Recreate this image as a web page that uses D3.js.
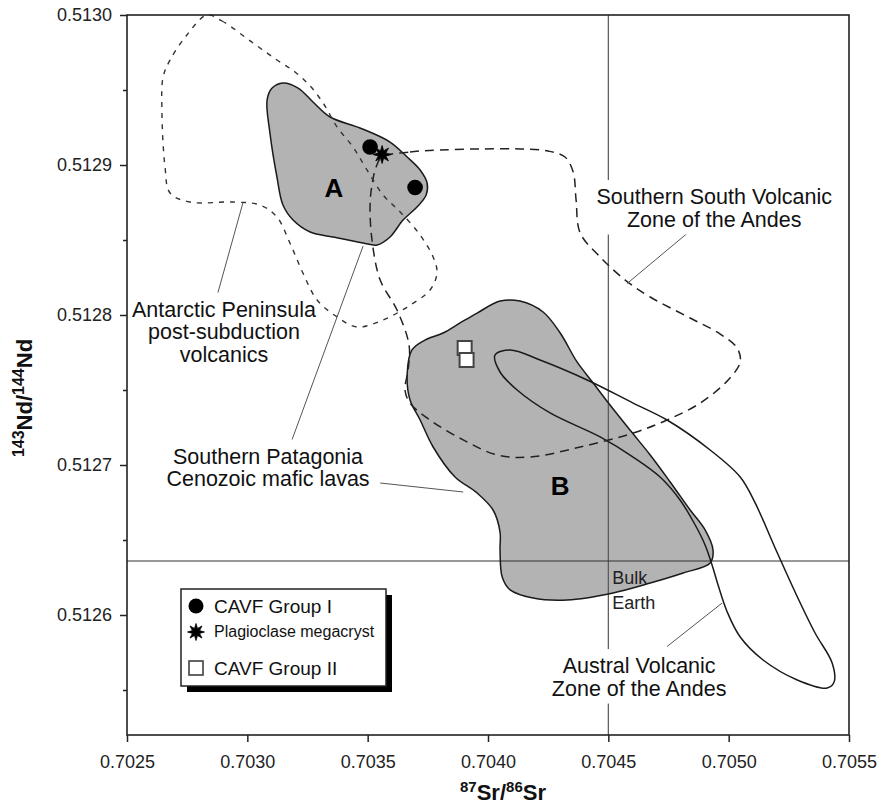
<!DOCTYPE html>
<meta charset="utf-8" />
<style>
  body {
    margin: 0;
    background: #fff;
  }
  svg {
    font-family: "Liberation Sans", Arial, Helvetica, sans-serif;
  }
</style>

<body>
  <div id="chart"></div>
  <script src="https://cdn.jsdelivr.net/npm/d3@7"></script>
  <script>
    // ---- data (Sr87/Sr86, Nd143/Nd144) ----
    const xTicks = [0.7025, 0.703, 0.7035, 0.704, 0.7045, 0.705, 0.7055];
    const yTicks = [0.5126, 0.5127, 0.5128, 0.5129, 0.513];
    const yMinorTicks = [0.51255, 0.51265, 0.51275, 0.51285, 0.51295];
    const bulkEarthSr = 0.7045;
    const bulkEarthNd = 0.512636;

    const groupI = [
      [0.70351, 0.512912],
      [0.703697, 0.512885],
    ];
    const plagioclase = [[0.70356, 0.512907]];
    const groupII = [
      [0.703903, 0.512778],
      [0.703911, 0.51277],
    ];

    // field A (grey, CAVF group I)
    const fieldA = [
      [0.703082, 0.5129433], [0.703103, 0.5129513], [0.703148, 0.5129547], [0.703211, 0.5129513],
      [0.703273, 0.512942], [0.703344, 0.512932], [0.703468, 0.5129247], [0.703593, 0.5129153],
      [0.703664, 0.5129053], [0.703718, 0.5128967], [0.703747, 0.512888], [0.703743, 0.51288],
      [0.703705, 0.512872], [0.703647, 0.5128633], [0.703593, 0.512852], [0.703539, 0.5128467],
      [0.703481, 0.512848], [0.703356, 0.512852], [0.703261, 0.5128553], [0.70319, 0.5128633],
      [0.703148, 0.5128733], [0.703123, 0.512892], [0.703094, 0.5129213],
    ];

    // field B (grey, CAVF group II)
    const fieldB = [
      [0.703664, 0.51276], [0.703684, 0.5127767], [0.703738, 0.5127833], [0.703813, 0.512788],
      [0.703884, 0.5127947], [0.703955, 0.5128013], [0.70405, 0.5128093], [0.704133, 0.5128093],
      [0.704229, 0.512802], [0.7043, 0.512788], [0.70437, 0.5127687], [0.704437, 0.5127547],
      [0.704507, 0.51274], [0.70459, 0.5127233], [0.704674, 0.5127067], [0.704757, 0.5126887],
      [0.70484, 0.51267], [0.704902, 0.5126567], [0.704935, 0.5126433], [0.704923, 0.5126347],
      [0.704811, 0.512628], [0.704674, 0.5126213], [0.70452, 0.5126147], [0.704329, 0.51261],
      [0.704187, 0.5126113], [0.704092, 0.5126167], [0.704059, 0.5126253], [0.70405, 0.5126433],
      [0.70405, 0.5126553], [0.704021, 0.51267], [0.703955, 0.5126813], [0.703863, 0.512692],
      [0.703772, 0.512712], [0.703718, 0.51273], [0.703676, 0.5127433],
    ];

    // Austral Volcanic Zone (solid outline)
    const austral = [
      [0.704029, 0.5127733], [0.70405, 0.512762], [0.704121, 0.51275], [0.704258, 0.5127347],
      [0.704466, 0.5127187], [0.704603, 0.5127053], [0.704715, 0.512692], [0.704798, 0.5126767],
      [0.704861, 0.51266], [0.704902, 0.5126467], [0.704931, 0.5126333], [0.704956, 0.51262],
      [0.704994, 0.512602], [0.705048, 0.5125853], [0.705143, 0.51257], [0.705285, 0.5125567],
      [0.705409, 0.5125513], [0.705438, 0.5125553], [0.70543, 0.512568], [0.705359, 0.512588],
      [0.705276, 0.5126153], [0.705193, 0.5126447], [0.70511, 0.5126747], [0.705048, 0.512692],
      [0.704923, 0.51271], [0.704744, 0.51273], [0.704603, 0.5127413], [0.704412, 0.5127567],
      [0.704216, 0.51277], [0.704092, 0.5127767],
    ];

    // Southern South Volcanic Zone (dashed)
    const ssvz = [
      [0.70356, 0.5129053], [0.703676, 0.5129087], [0.703801, 0.51291], [0.703967, 0.5129107],
      [0.704133, 0.5129107], [0.70425, 0.5129093], [0.70432, 0.5129053], [0.704354, 0.5128953],
      [0.704366, 0.5128767], [0.704383, 0.5128547], [0.704466, 0.5128387], [0.70457, 0.5128233],
      [0.704674, 0.512812], [0.70484, 0.512798], [0.704965, 0.5127873], [0.705035, 0.512778],
      [0.705048, 0.5127687], [0.704998, 0.5127567], [0.704882, 0.5127413], [0.704744, 0.51273],
      [0.704603, 0.5127213], [0.704383, 0.512712], [0.704175, 0.5127053], [0.704038, 0.5127067],
      [0.703897, 0.5127167], [0.703759, 0.51273], [0.703676, 0.5127413], [0.703655, 0.51275],
      [0.703668, 0.5127633], [0.703672, 0.51278], [0.703622, 0.5128033], [0.703552, 0.5128233],
      [0.703518, 0.51285], [0.70351, 0.5128733], [0.703518, 0.5128867], [0.703535, 0.5128987],
    ];

    // Antarctic Peninsula post-subduction volcanics (dashed)
    const apv = [
      [0.702832, 0.513], [0.702895, 0.512996], [0.703024, 0.5129813], [0.703123, 0.51297],
      [0.703198, 0.512962], [0.703261, 0.5129527], [0.703315, 0.5129413], [0.703373, 0.5129253],
      [0.703439, 0.512912], [0.703497, 0.5128967], [0.703564, 0.51288], [0.703635, 0.5128687],
      [0.703718, 0.5128533], [0.703772, 0.5128387], [0.703788, 0.512828], [0.703759, 0.5128167],
      [0.703664, 0.5128053], [0.703564, 0.5127967], [0.703456, 0.512792], [0.703373, 0.5127987],
      [0.70329, 0.51281], [0.703231, 0.512828], [0.703177, 0.512848], [0.703123, 0.5128653],
      [0.703053, 0.5128733], [0.702941, 0.5128753], [0.702762, 0.5128753], [0.702679, 0.5128813],
      [0.702658, 0.5128987], [0.702645, 0.5129367], [0.70265, 0.5129587], [0.702679, 0.51297],
      [0.702749, 0.5129867],
    ];

    // leader lines [[sr1, nd1], [sr2, nd2]]
    const leaders = [
      [[0.702982, 0.512875], [0.702878, 0.512815]],
      [[0.703481, 0.512846], [0.703186, 0.512717]],
      [[0.703552, 0.512688], [0.703897, 0.512682]],
      [[0.704832, 0.512855], [0.704578, 0.512821]],
      [[0.704973, 0.512608], [0.704744, 0.512579]],
    ];

    // annotations: anchor, lines
    const labels = [
      { sr: 0.702903, nd: 0.512799, lines: ["Antarctic Peninsula", "post-subduction", "volcanics"], bg: false },
      { sr: 0.703086, nd: 0.5127007, lines: ["Southern Patagonia", "Cenozoic mafic lavas"], bg: false },
      { sr: 0.70494, nd: 0.512874, lines: ["Southern South Volcanic", "Zone of the Andes"], bg: true },
      { sr: 0.704628, nd: 0.5125613, lines: ["Austral Volcanic", "Zone of the Andes"], bg: true },
    ];
    const fieldLabels = [
      { sr: 0.70336, nd: 0.512879, text: "A" },
      { sr: 0.7043, nd: 0.51268, text: "B" },
    ];

    // ---- chart ----
    const W = 880,
      H = 805;
    const x = d3.scaleLinear().domain([0.7025, 0.7055]).range([127, 849]);
    const y = d3.scaleLinear().domain([0.51252, 0.513]).range([735, 15]);

    const svg = d3.select("#chart").append("svg").attr("width", W).attr("height", H);

    const shape = d3
      .line()
      .x((d) => x(d[0]))
      .y((d) => y(d[1]))
      .curve(d3.curveCatmullRomClosed.alpha(0.5));

    // grey fields
    svg.append("path").attr("d", shape(fieldA)).attr("fill", "#b3b3b3");
    svg.append("path").attr("d", shape(fieldB)).attr("fill", "#b3b3b3");

    // bulk earth lines
    svg
      .append("line")
      .attr("x1", x(bulkEarthSr))
      .attr("x2", x(bulkEarthSr))
      .attr("y1", y(0.513))
      .attr("y2", y(0.51252))
      .attr("stroke", "#555")
      .attr("stroke-width", 1.2);
    svg
      .append("line")
      .attr("x1", x(0.7025))
      .attr("x2", x(0.7055))
      .attr("y1", y(bulkEarthNd))
      .attr("y2", y(bulkEarthNd))
      .attr("stroke", "#333")
      .attr("stroke-width", 1.2);

    // outlines
    [fieldA, fieldB, austral].forEach((f) => {
      svg.append("path").attr("d", shape(f)).attr("fill", "none").attr("stroke", "#1a1a1a").attr("stroke-width", 1.5);
    });
    svg
      .append("path")
      .attr("d", shape(ssvz))
      .attr("fill", "none")
      .attr("stroke", "#222")
      .attr("stroke-width", 1.5)
      .attr("stroke-dasharray", "9,6");
    svg
      .append("path")
      .attr("d", shape(apv))
      .attr("fill", "none")
      .attr("stroke", "#333")
      .attr("stroke-width", 1.4)
      .attr("stroke-dasharray", "5,6");

    // leaders
    svg
      .selectAll(".leader")
      .data(leaders)
      .enter()
      .append("line")
      .attr("x1", (d) => x(d[0][0]))
      .attr("y1", (d) => y(d[0][1]))
      .attr("x2", (d) => x(d[1][0]))
      .attr("y2", (d) => y(d[1][1]))
      .attr("stroke", "#555")
      .attr("stroke-width", 1);

    // labels, one text element per line
    labels.forEach((l) => {
      const g = svg.append("g");
      l.lines.forEach((s, i) => {
        g.append("text")
          .attr("text-anchor", "middle")
          .attr("font-size", 21.5)
          .attr("fill", "#111")
          .attr("x", x(l.sr))
          .attr("y", y(l.nd) + i * 22.5)
          .text(s);
      });
      if (l.bg) {
        const b = g.node().getBBox();
        g.insert("rect", "text")
          .attr("x", b.x - 3)
          .attr("y", b.y - 5)
          .attr("width", b.width + 6)
          .attr("height", b.height + 8)
          .attr("fill", "#fff");
      }
    });

    svg
      .selectAll(".field-label")
      .data(fieldLabels)
      .enter()
      .append("text")
      .attr("x", (d) => x(d.sr))
      .attr("y", (d) => y(d.nd))
      .attr("text-anchor", "middle")
      .attr("font-size", 26)
      .attr("font-weight", "bold")
      .text((d) => d.text);

    svg.append("text").attr("x", x(0.704516)).attr("y", y(0.512621)).attr("font-size", 18).attr("fill", "#222").text("Bulk");
    svg.append("text").attr("x", x(0.704516)).attr("y", y(0.512604)).attr("font-size", 18).attr("fill", "#222").text("Earth");

    // star symbol (8 spikes)
    const star8 = {
      draw(ctx, size) {
        const R = Math.sqrt(size) / 2,
          r = R * 0.45;
        for (let i = 0; i < 16; i++) {
          const a = (i * Math.PI) / 8 - Math.PI / 2;
          const rad = i % 2 ? r : R;
          if (i === 0) ctx.moveTo(rad * Math.cos(a), rad * Math.sin(a));
          else ctx.lineTo(rad * Math.cos(a), rad * Math.sin(a));
        }
        ctx.closePath();
      },
    };

    // data points
    svg
      .selectAll(".g1")
      .data(groupI)
      .enter()
      .append("circle")
      .attr("cx", (d) => x(d[0]))
      .attr("cy", (d) => y(d[1]))
      .attr("r", 7.8)
      .attr("fill", "#000");
    svg
      .selectAll(".g2")
      .data(groupII)
      .enter()
      .append("rect")
      .attr("x", (d) => x(d[0]) - 7)
      .attr("y", (d) => y(d[1]) - 7)
      .attr("width", 14)
      .attr("height", 14)
      .attr("fill", "#fff")
      .attr("stroke", "#444")
      .attr("stroke-width", 2);
    svg
      .selectAll(".plag")
      .data(plagioclase)
      .enter()
      .append("path")
      .attr("transform", (d) => `translate(${x(d[0])},${y(d[1])})`)
      .attr("d", d3.symbol().type(star8).size(324))
      .attr("fill", "#000")
      .attr("stroke", "#000")
      .attr("stroke-width", 0.8);

    // axes
    const xAxis = svg
      .append("g")
      .attr("transform", "translate(0,735)")
      .call(d3.axisBottom(x).tickValues(xTicks).tickFormat(d3.format(".4f")).tickSize(7).tickSizeOuter(0).tickPadding(13));
    const yAxis = svg
      .append("g")
      .attr("transform", "translate(127,0)")
      .call(d3.axisLeft(y).tickValues(yTicks).tickFormat(d3.format(".4f")).tickSize(7).tickSizeOuter(0).tickPadding(8));
    const yMinor = svg
      .append("g")
      .attr("transform", "translate(127,0)")
      .call(d3.axisLeft(y).tickValues(yMinorTicks).tickFormat("").tickSize(4).tickSizeOuter(0));
    [xAxis, yAxis, yMinor].forEach((a) => {
      a.selectAll("line").attr("stroke", "#222").attr("stroke-width", 1.5);
      a.selectAll("text").attr("font-size", 18).attr("fill", "#222").attr("font-family", "Liberation Sans, Arial, sans-serif");
      a.select(".domain").remove();
    });

    // frame
    svg
      .append("rect")
      .attr("x", 127)
      .attr("y", 15)
      .attr("width", 722)
      .attr("height", 720)
      .attr("fill", "none")
      .attr("stroke", "#222")
      .attr("stroke-width", 1.6);

    // axis titles
    const xt = svg
      .append("text")
      .attr("x", 503)
      .attr("y", 800)
      .attr("text-anchor", "middle")
      .attr("font-weight", "bold")
      .attr("font-size", 22)
      .attr("fill", "#111");
    xt.append("tspan").attr("font-size", 15).attr("dy", -8).text("87");
    xt.append("tspan").attr("dy", 8).text("Sr/");
    xt.append("tspan").attr("font-size", 15).attr("dy", -8).text("86");
    xt.append("tspan").attr("dy", 8).text("Sr");

    const yt = svg
      .append("text")
      .attr("transform", "translate(32,398) rotate(-90)")
      .attr("text-anchor", "middle")
      .attr("font-weight", "bold")
      .attr("font-size", 22)
      .attr("fill", "#111");
    yt.append("tspan").attr("font-size", 16).attr("dy", -8).text("143");
    yt.append("tspan").attr("dy", 8).text("Nd/");
    yt.append("tspan").attr("font-size", 16).attr("dy", -8).text("144");
    yt.append("tspan").attr("dy", 8).text("Nd");

    // legend
    const lg = svg.append("g");
    lg.append("rect").attr("x", 187).attr("y", 595).attr("width", 205).attr("height", 97).attr("fill", "#000");
    lg.append("rect")
      .attr("x", 181)
      .attr("y", 589)
      .attr("width", 205)
      .attr("height", 97)
      .attr("fill", "#fff")
      .attr("stroke", "#222")
      .attr("stroke-width", 1.5);
    lg.append("circle").attr("cx", 196).attr("cy", 606).attr("r", 7.5).attr("fill", "#000");
    lg.append("path")
      .attr("transform", "translate(196,632)")
      .attr("d", d3.symbol().type(star8).size(289))
      .attr("fill", "#000")
      .attr("stroke", "#000")
      .attr("stroke-width", 0.8);
    lg.append("rect")
      .attr("x", 189)
      .attr("y", 661)
      .attr("width", 14)
      .attr("height", 14)
      .attr("fill", "#fff")
      .attr("stroke", "#333")
      .attr("stroke-width", 1.5);
    lg.append("text").attr("x", 214).attr("y", 613).attr("font-size", 19).attr("fill", "#111").text("CAVF Group I");
    lg.append("text").attr("x", 214).attr("y", 637).attr("font-size", 16).attr("fill", "#111").text("Plagioclase megacryst");
    lg.append("text").attr("x", 214).attr("y", 675).attr("font-size", 19).attr("fill", "#111").text("CAVF Group II");
  </script>
</body>
